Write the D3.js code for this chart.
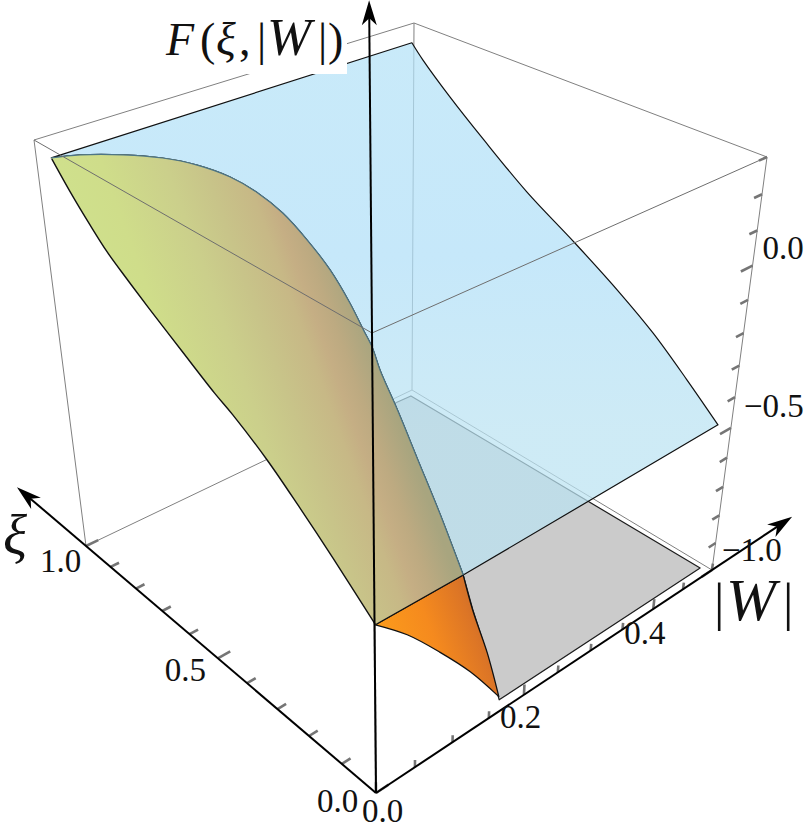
<!DOCTYPE html>
<html>
<head>
<meta charset="utf-8">
<script src="https://cdnjs.cloudflare.com/ajax/libs/d3/7.8.5/d3.min.js"></script>
<style>
  body { margin: 0; background: #fff; }
  text { font-family: "Liberation Serif", serif; fill: #111; }
</style>
</head>
<body>
<div id="chart"></div>
<script>
// axis ticks
const xiTicks = [0, 0.1, 0.2, 0.3, 0.4, 0.5, 0.6, 0.7, 0.8, 0.9, 1];
const xiMajor = [0, 0.5, 1];
const wTicks = [0, 0.05, 0.1, 0.15, 0.2, 0.25, 0.3, 0.35, 0.4, 0.45, 0.5];
const wMajor = [0, 0.2, 0.4];
const fTicks = [-1, -0.9, -0.8, -0.7, -0.6, -0.5, -0.4, -0.3, -0.2, -0.1, 0, 0.1, 0.2, 0.3];
const fMajor = [-1, -0.5, 0];

// tick labels
const xiLabelValues = [1, 0.5, 0];
const xiLabels = ["1.0", "0.5", "0.0"];
const wLabelValues = [0, 0.2, 0.4];
const wLabels = ["0.0", "0.2", "0.4"];
const fLabelValues = [-1, -0.5, 0];
const fLabels = ["\u22121.0", "\u22120.5", "0.0"];

// edge of the surface next to |W| = 0
const leftEdgeW = 0.015;
const leftEdgeXi = [0.994, 0.938, 0.878, 0.825, 0.764, 0.695, 0.592, 0.493, 0.438, 0.337, 0.243, 0.150, 0.033];
const leftEdgeF = [0.240, 0.173, 0.110, 0.060, 0.016, -0.031, -0.097, -0.159, -0.188, -0.254, -0.330, -0.410, -0.517];

// edge of the blue sheet at large |W|
const rightEdgeW = 0.49;
const rightEdgeXi = [0.985, 0.947, 0.855, 0.744, 0.601, 0.450, 0.312, 0.212, 0.111, 0.019];
const rightEdgeF = [0.252, 0.213, 0.134, 0.048, -0.056, -0.146, -0.235, -0.309, -0.401, -0.491];

// boundary between the green and the blue sheet
const archXi = [0.985, 0.95, 0.9, 0.85, 0.8, 0.75, 0.7, 0.65, 0.6, 0.55, 0.5, 0.45, 0.4, 0.35, 0.25, 0.15, 0.08, 0.03];
const archW = [0.012, 0.034, 0.067, 0.096, 0.119, 0.140, 0.153, 0.165, 0.175, 0.183, 0.187, 0.183, 0.173, 0.161, 0.139, 0.120, 0.116, 0.124];
const archF = [0.249, 0.256, 0.253, 0.244, 0.229, 0.202, 0.172, 0.127, 0.066, -0.002, -0.076, -0.124, -0.138, -0.162, -0.194, -0.254, -0.358, -0.518];

// orange sheet, all at the front xi
const orangeXi = 0.03;
const orangeTopW = [0.014, 0.124];
const orangeTopF = [-0.515, -0.518];
const orangeRightW = [0.124, 0.138, 0.160, 0.179];
const orangeRightF = [-0.518, -0.648, -0.820, -1.0];
const orangeLowW = [0.179, 0.137, 0.095, 0.053, 0.014];
const orangeLowF = [-1.0, -0.848, -0.719, -0.602, -0.515];

// grey floor at F = -1
const floorF = -1;
const floorXi = [0.023, 0.022, 0.980, 0.982, 0.536, 0.355, 0.256, 0.138];
const floorW = [0.176, 0.493, 0.489, 0.458, 0.334, 0.285, 0.252, 0.215];

const width = 806, height = 834;

const svg = d3.select("#chart").append("svg")
    .attr("width", width)
    .attr("height", height)
    .style("display", "block");

// scales from data to the unit cube
const xiScale = d3.scaleLinear().domain([0, 1]).range([0, 1]);
const wScale = d3.scaleLinear().domain([0, 0.5]).range([0, 1]);
const fScale = d3.scaleLinear().domain([-1, 0.3]).range([0, 1]);

// screen position of the box corners, [xi][w][f]
const corners = [
    [[[376, 793], [372, 333]], [[712, 570], [767, 157]]],
    [[[86, 546], [34, 140]], [[412, 390], [414, 23]]]
];

// foreshortening along each axis
const warp = (s, k) => s * k / (1 + s * (k - 1));

function project(xi, w, f) {
    const u = warp(xiScale(xi), 1.2), v = warp(wScale(w), 1.18), t = warp(fScale(f), 0.84);
    return [0, 1].map(d => {
        let r = 0;
        for (const i of [0, 1]) for (const j of [0, 1]) for (const k of [0, 1]) {
            r += corners[i][j][k][d] * (i ? u : 1 - u) * (j ? v : 1 - v) * (k ? t : 1 - t);
        }
        return r;
    });
}

const straight = d3.line();
const smooth = d3.line().curve(d3.curveCatmullRom.alpha(0.5));

// project three columns into a list of screen points
function pts(xis, ws, fs) {
    const n = [xis, ws, fs].find(a => Array.isArray(a)).length;
    const at = (a, i) => Array.isArray(a) ? a[i] : a;
    return d3.range(n).map(i => project(at(xis, i), at(ws, i), at(fs, i)));
}

// join several path pieces into one outline
function joined(pieces) {
    return pieces.map((p, i) => i === 0 ? p : "L" + p.slice(1)).join("");
}

function segment(parent, a, b, color, w) {
    parent.append("path")
        .attr("d", straight([project(...a), project(...b)]))
        .attr("fill", "none")
        .attr("stroke", color)
        .attr("stroke-width", w);
}

// gradients
const defs = svg.append("defs");
function gradient(id, x1, y1, x2, y2, stops) {
    const g = defs.append("linearGradient").attr("id", id)
        .attr("gradientUnits", "userSpaceOnUse")
        .attr("x1", x1).attr("y1", y1).attr("x2", x2).attr("y2", y2);
    stops.forEach(s => g.append("stop").attr("offset", s[0]).attr("stop-color", s[1]));
}
gradient("greenFill", 60, 165, 278, 86, [
    [0, "#cfe08c"], [0.17, "#cfdd8a"], [0.43, "#cbcf8b"], [0.58, "#c8c489"],
    [0.74, "#c7b886"], [0.81, "#c5ae84"], [0.88, "#bdaa81"], [1, "#a8a57f"]
]);
gradient("orangeFill", 380, 625, 488, 586, [
    [0, "#fb9a1c"], [0.4, "#f58a1e"], [0.75, "#dc7526"], [1, "#bb6530"]
]);
gradient("blueFill", 0, 42, 0, 430, [
    [0, "#b4e2f7"], [0.55, "#b0dff8"], [1, "#bbe3f2"]
]);

const grey = "#808080";

// back edges of the box, they sit behind the surfaces
const back = svg.append("g").attr("id", "backEdges");
segment(back, [1, 0, -1], [1, 0.5, -1], grey, 1);
segment(back, [1, 0.5, -1], [0, 0.5, -1], grey, 1);
segment(back, [1, 0.5, -1], [1, 0.5, 0.3], grey, 1);
segment(back, [1, 0, -1], [1, 0, 0.3], grey, 1);
segment(back, [0, 0.5, -1], [0, 0.5, 0.3], grey, 1);
segment(back, [1, 0, 0.3], [1, 0.5, 0.3], grey, 1);
segment(back, [1, 0.5, 0.3], [0, 0.5, 0.3], grey, 1);
segment(back, [0, 0, -1], [0, 0, 0.3], "#aaa", 2);

// floor
const floorPoints = pts(floorXi, floorW, floorF);
svg.append("path")
    .attr("d", straight(floorPoints) + "Z")
    .attr("fill", "#cbcbcb")
    .attr("stroke", "#1c1c1c")
    .attr("stroke-width", 1.2)
    .attr("stroke-linejoin", "round");

// blue sheet
const arch = pts(archXi, archW, archF);
const rightEdge = pts(rightEdgeXi, rightEdgeW, rightEdgeF);
svg.append("path")
    .attr("d", joined([smooth(rightEdge), smooth(arch.slice().reverse())]) + "Z")
    .attr("fill", "url(#blueFill)")
    .attr("fill-opacity", 0.72)
    .attr("stroke", "#111")
    .attr("stroke-width", 1.2)
    .attr("stroke-linejoin", "round");

// orange sheet
const orangeTop = pts(orangeXi, orangeTopW, orangeTopF);
const orangeRight = pts(orangeXi, orangeRightW, orangeRightF);
const orangeLow = pts(orangeXi, orangeLowW, orangeLowF);
svg.append("path")
    .attr("d", joined([straight(orangeTop), smooth(orangeRight), smooth(orangeLow)]) + "Z")
    .attr("fill", "url(#orangeFill)")
    .attr("stroke", "#111")
    .attr("stroke-width", 1.3)
    .attr("stroke-linejoin", "round");

// green sheet
const leftEdge = pts(leftEdgeXi, leftEdgeW, leftEdgeF);
svg.append("path")
    .attr("d", joined([smooth(leftEdge), straight(orangeTop), smooth(arch.slice().reverse())]) + "Z")
    .attr("fill", "url(#greenFill)");
svg.append("path")
    .attr("d", smooth(leftEdge))
    .attr("fill", "none")
    .attr("stroke", "#111")
    .attr("stroke-width", 1.4);
svg.append("path")
    .attr("d", straight(orangeTop))
    .attr("fill", "none")
    .attr("stroke", "#111")
    .attr("stroke-width", 1.2);
svg.append("path")
    .attr("d", smooth(arch))
    .attr("fill", "none")
    .attr("stroke", "#4d7686")
    .attr("stroke-width", 1.2);

// front top edges of the box pass in front of everything
const front = svg.append("g").attr("id", "frontEdges");
segment(front, [1, 0, 0.3], [0, 0, 0.3], "#6e6e6e", 1);
segment(front, [0, 0, 0.3], [0, 0.5, 0.3], "#6e6e6e", 1);

// ticks
const tickColor = "#757575";
const ticks = svg.append("g").attr("id", "ticks");
xiTicks.forEach(x => {
    const len = xiMajor.includes(x) ? 0.016 : 0.011;
    segment(ticks, [x, 0, -1], [x, len, -1], tickColor, 2.6);
});
wTicks.forEach(w => {
    const len = wMajor.includes(w) ? 0.036 : 0.024;
    segment(ticks, [0, w, -1], [0, w, -1 + len], tickColor, 2.6);
});
fTicks.forEach(f => {
    const len = fMajor.includes(f) ? 0.018 : 0.012;
    segment(ticks, [0, 0.5, f], [0, 0.5 - len, f], tickColor, 2.6);
});

// arrows, they run past the end of the box
function arrow(tipData) {
    const origin = project(0, 0, -1);
    const tip = project(...tipData);
    const dx = tip[0] - origin[0], dy = tip[1] - origin[1];
    const n = Math.hypot(dx, dy), ux = dx / n, uy = dy / n;
    const along = (d, side) => [tip[0] - ux * d - uy * side, tip[1] - uy * d + ux * side];
    svg.append("path")
        .attr("d", straight([origin, along(15, 0)]))
        .attr("stroke", "#000")
        .attr("stroke-width", 2)
        .attr("fill", "none");
    svg.append("path")
        .attr("d", straight([tip, along(25, 7.5), along(18, 0), along(25, -7.5)]) + "Z")
        .attr("fill", "#000");
}
arrow([1.3, 0, -1]);
arrow([0, 0.647, -1]);
arrow([0, 0, 1.008]);

// tick labels, placed relative to their tick
function tickLabels(values, labels, offsets, toPoint) {
    values.forEach((v, i) => {
        const p = toPoint(v);
        svg.append("text")
            .attr("x", p[0] + offsets[i][0])
            .attr("y", p[1] + offsets[i][1])
            .attr("font-size", 33)
            .text(labels[i]);
    });
}
tickLabels(xiLabelValues, xiLabels, [[-46, 26], [-53, 23], [-59, 19]], v => project(v, 0, -1));
tickLabels(wLabelValues, wLabels, [[-14, 29], [-24, 33], [-29, 35]], v => project(0, v, -1));
tickLabels(fLabelValues, fLabels, [[10, -9], [13, -11], [10, -7]], v => project(0, 0.5, v));

// axis titles
svg.append("text").attr("x", 3).attr("y", 554)
    .attr("font-size", 56).attr("font-style", "italic").text("\u03be");
const wTitle = [["|", 714, "normal", 52], ["W", 726, "italic", 60], ["|", 783, "normal", 52]];
wTitle.forEach(d => svg.append("text").attr("x", d[1]).attr("y", 620)
    .attr("font-size", d[3]).attr("font-style", d[2]).text(d[0]));

// white box behind the F label
svg.append("rect").attr("x", 165).attr("y", 20).attr("width", 182).attr("height", 54).attr("fill", "#fff");
const fTitle = [
    ["F", 166, "italic", 46], ["(", 200, "normal", 46], ["\u03be", 216, "italic", 46], [",", 239, "normal", 46],
    ["|", 257, "normal", 46], ["W", 267, "italic", 53], ["|", 318, "normal", 46], [")", 328, "normal", 46]
];
fTitle.forEach(d => svg.append("text").attr("x", d[1]).attr("y", 55)
    .attr("font-size", d[3]).attr("font-style", d[2]).text(d[0]));
</script>
</body>
</html>
